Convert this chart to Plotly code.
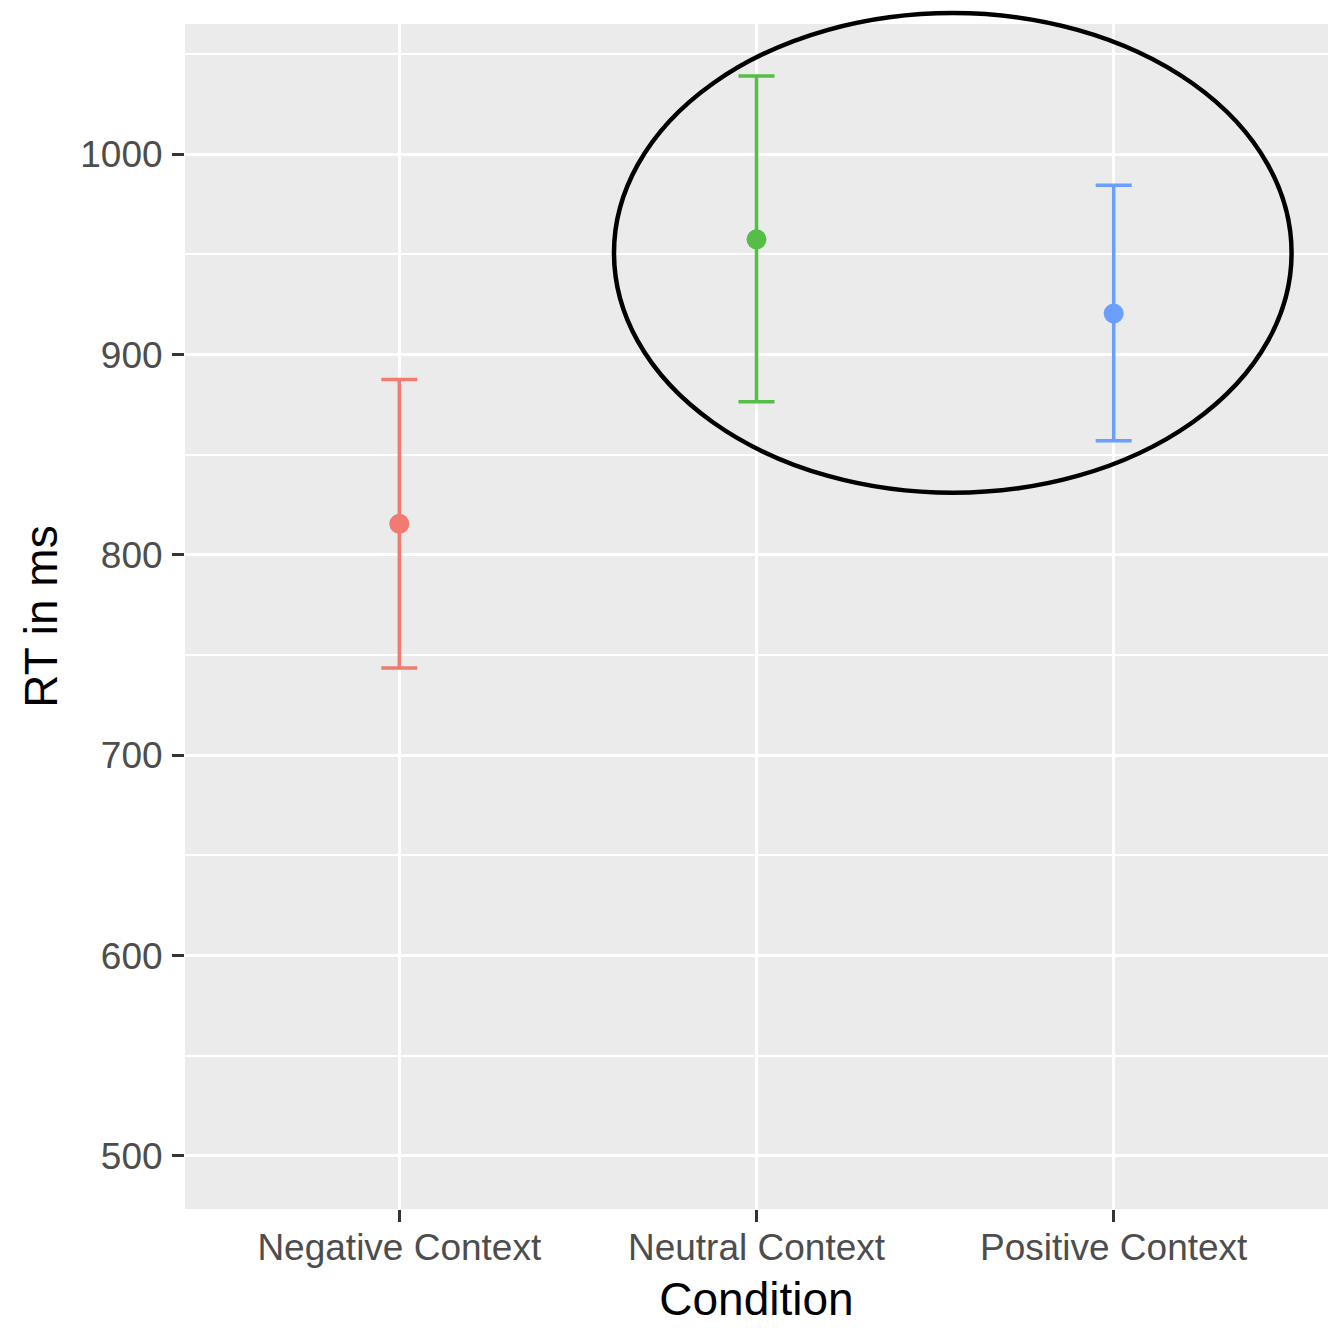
import plotly.graph_objects as go

conditions = ["Negative Context", "Neutral Context", "Positive Context"]
means = [815.5, 957.5, 920.5]
upper = [887.5, 1039.0, 984.5]
lower = [743.5, 876.5, 857.0]
colors = ["#F17B72", "#54BE46", "#6A9FFF"]

y_range = [473.5, 1065.0]
x_range = [-0.6, 2.6]
# highlighted region (data units)
hl_x = [0.601, 2.498]
hl_y = [831.0, 1070.5]

fig = go.Figure()
for i, c in enumerate(conditions):
    fig.add_trace(go.Scatter(
        x=[c], y=[means[i]], mode="markers",
        marker=dict(color=colors[i], size=20),
        error_y=dict(type="data", symmetric=False,
                     array=[upper[i] - means[i]], arrayminus=[means[i] - lower[i]],
                     color=colors[i], thickness=3.5, width=18),
        showlegend=False, cliponaxis=False,
    ))

def px(v):
    return (v - x_range[0]) / (x_range[1] - x_range[0])

def py(v):
    return (v - y_range[0]) / (y_range[1] - y_range[0])

fig.add_shape(type="circle", xref="paper", yref="paper",
              x0=px(hl_x[0]), x1=px(hl_x[1]), y0=py(hl_y[0]), y1=py(hl_y[1]),
              line=dict(color="black", width=4.5), layer="above")

font = "Liberation Sans, Arial, sans-serif"
fig.update_layout(
    width=1336, height=1328,
    margin=dict(l=185, r=8, t=24, b=119),
    paper_bgcolor="white", plot_bgcolor="#EBEBEB",
    font=dict(family=font),
    xaxis=dict(
        type="category", range=x_range, categoryorder="array", categoryarray=conditions,
        showgrid=True, gridcolor="white", gridwidth=3, zeroline=False,
        ticks="outside", ticklen=12, tickwidth=3, tickcolor="#333333",
        ticklabelstandoff=-6,
        tickfont=dict(size=37, color="#4D4D4D", family=font),
        title=dict(text="Condition", font=dict(size=46, color="black", family=font), standoff=15),
        showline=False,
    ),
    yaxis=dict(
        range=y_range, tick0=500, dtick=100,
        showgrid=True, gridcolor="white", gridwidth=3, zeroline=False,
        ticks="outside", ticklen=12, tickwidth=3, tickcolor="#333333",
        ticklabelstandoff=2,
        tickfont=dict(size=37, color="#4D4D4D", family=font),
        minor=dict(dtick=50, showgrid=True, gridcolor="white", gridwidth=1.5, ticks=""),
        title=dict(text="RT in ms", font=dict(size=46, color="black", family=font), standoff=8),
        showline=False,
    ),
)

fig.write_html("out.html")
